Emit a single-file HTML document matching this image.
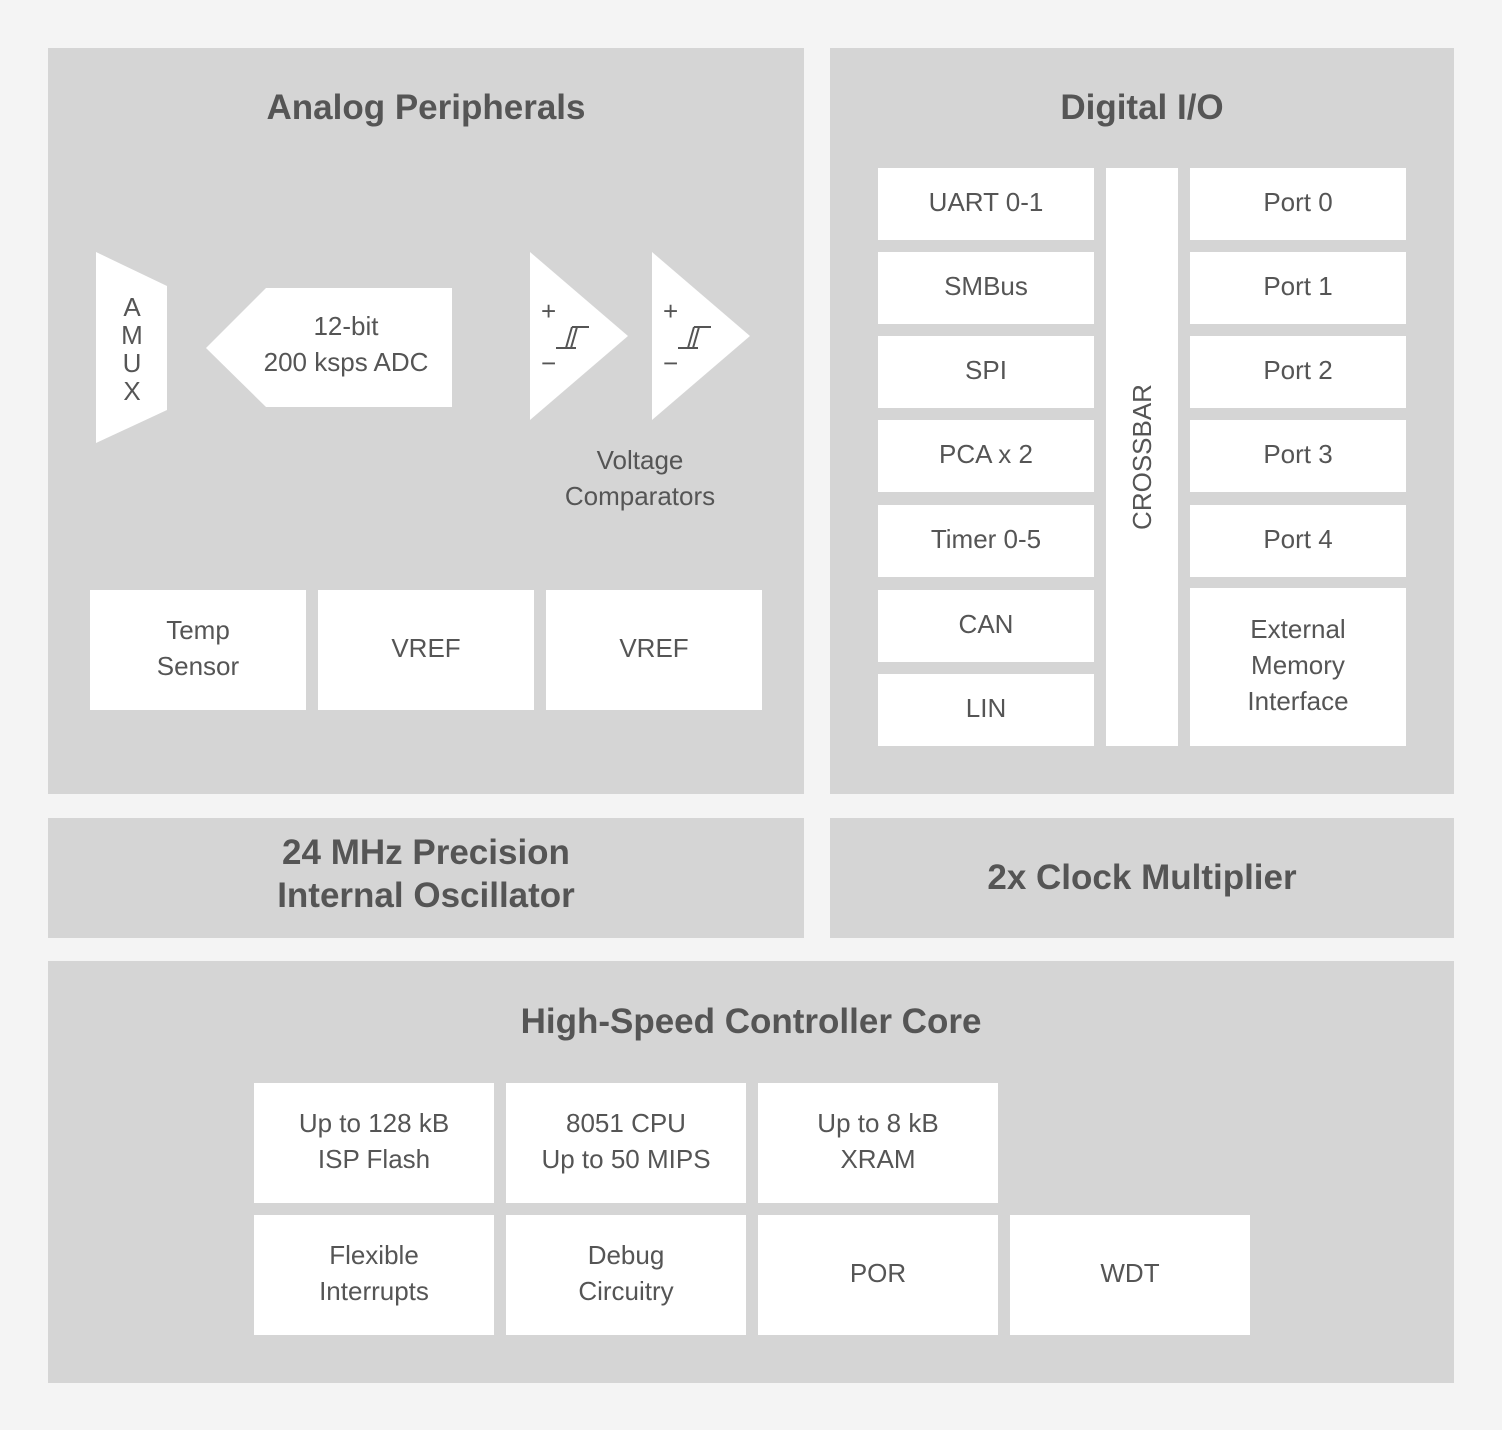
<!DOCTYPE html>
<html><head><style>
body{margin:0;width:1502px;height:1430px;background:#f4f4f4;position:relative;font-family:"Liberation Sans",Arial,sans-serif;color:#555;overflow:hidden}
.p{position:absolute;background:#d5d5d5}
.b{position:absolute;background:#fff;display:flex;align-items:center;justify-content:center;text-align:center;font-size:26px;line-height:36px;color:#555;box-sizing:border-box;padding-bottom:4px}
.t{position:absolute;text-align:center;font-weight:bold;font-size:35px;color:#555;line-height:43px}
svg{position:absolute;left:0;top:0}
</style></head><body>
<div class="p" style="left:48px;top:48px;width:756px;height:746px"></div>
<div class="p" style="left:830px;top:48px;width:624px;height:746px"></div>
<div class="p" style="left:48px;top:818px;width:756px;height:120px"></div>
<div class="p" style="left:830px;top:818px;width:624px;height:120px"></div>
<div class="p" style="left:48px;top:961px;width:1406px;height:422px"></div>

<div class="t" style="left:48px;top:86px;width:756px">Analog Peripherals</div>
<div class="t" style="left:830px;top:86px;width:624px">Digital I/O</div>
<div class="t" style="left:48px;top:831px;width:756px">24 MHz Precision<br>Internal Oscillator</div>
<div class="t" style="left:830px;top:856px;width:624px">2x Clock Multiplier</div>
<div class="t" style="left:48px;top:1000px;width:1406px">High-Speed Controller Core</div>

<svg width="1502" height="1430">
<polygon points="96,252 167,286 167,410 96,443" fill="#fff"/>
<polygon points="206,348 266,288 452,288 452,407 266,407" fill="#fff"/>
<polygon points="530,252 628,336 530,420" fill="#fff"/>
<polygon points="652,252 750,336 652,420" fill="#fff"/>
<g stroke="#555" stroke-width="2" fill="none">
<path d="M556,348 H576 M566,348 L572,327 M571,348 L577,327 M572,327 H589"/>
<path d="M678,348 H698 M688,348 L694,327 M693,348 L699,327 M694,327 H711"/>
</g>
<g font-family="Liberation Sans,Arial,sans-serif" font-size="26" fill="#555">
<text x="541" y="320">+</text><text x="541" y="372">−</text>
<text x="663" y="320">+</text><text x="663" y="372">−</text>
</g>
<g font-family="Liberation Sans,Arial,sans-serif" font-size="26" fill="#555" text-anchor="middle">
<text x="132" y="316">A</text><text x="132" y="344">M</text><text x="132" y="372">U</text><text x="132" y="400">X</text>
</g>
</svg>
<div class="b" style="left:236px;top:306px;width:220px;height:80px;background:none">12-bit<br>200 ksps ADC</div>
<div class="b" style="left:530px;top:444px;width:220px;height:72px;background:none">Voltage<br>Comparators</div>

<div class="b" style="left:90px;top:590px;width:216px;height:120px">Temp<br>Sensor</div>
<div class="b" style="left:318px;top:590px;width:216px;height:120px">VREF</div>
<div class="b" style="left:546px;top:590px;width:216px;height:120px">VREF</div>

<div class="b" style="left:878px;top:168px;width:216px;height:72px">UART 0-1</div>
<div class="b" style="left:878px;top:252px;width:216px;height:72px">SMBus</div>
<div class="b" style="left:878px;top:336px;width:216px;height:72px">SPI</div>
<div class="b" style="left:878px;top:420px;width:216px;height:72px">PCA x 2</div>
<div class="b" style="left:878px;top:505px;width:216px;height:72px">Timer 0-5</div>
<div class="b" style="left:878px;top:590px;width:216px;height:72px">CAN</div>
<div class="b" style="left:878px;top:674px;width:216px;height:72px">LIN</div>
<div class="b" style="left:1106px;top:168px;width:72px;height:578px;padding:0"><span style="transform:rotate(-90deg);display:inline-block;white-space:nowrap">CROSSBAR</span></div>
<div class="b" style="left:1190px;top:168px;width:216px;height:72px">Port 0</div>
<div class="b" style="left:1190px;top:252px;width:216px;height:72px">Port 1</div>
<div class="b" style="left:1190px;top:336px;width:216px;height:72px">Port 2</div>
<div class="b" style="left:1190px;top:420px;width:216px;height:72px">Port 3</div>
<div class="b" style="left:1190px;top:505px;width:216px;height:72px">Port 4</div>
<div class="b" style="left:1190px;top:588px;width:216px;height:158px">External<br>Memory<br>Interface</div>

<div class="b" style="left:254px;top:1083px;width:240px;height:120px">Up to 128 kB<br>ISP Flash</div>
<div class="b" style="left:506px;top:1083px;width:240px;height:120px">8051 CPU<br>Up to 50 MIPS</div>
<div class="b" style="left:758px;top:1083px;width:240px;height:120px">Up to 8 kB<br>XRAM</div>
<div class="b" style="left:254px;top:1215px;width:240px;height:120px">Flexible<br>Interrupts</div>
<div class="b" style="left:506px;top:1215px;width:240px;height:120px">Debug<br>Circuitry</div>
<div class="b" style="left:758px;top:1215px;width:240px;height:120px">POR</div>
<div class="b" style="left:1010px;top:1215px;width:240px;height:120px">WDT</div>
</body></html>
